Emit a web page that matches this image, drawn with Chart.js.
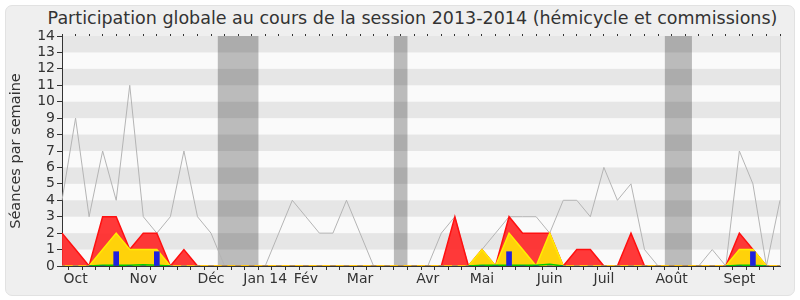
<!DOCTYPE html>
<html>
<head>
<meta charset="utf-8">
<script src="https://cdn.jsdelivr.net/npm/chart.js@4.4.0/dist/chart.umd.min.js"></script>
<style>
  body { margin: 0; background: #ffffff; }
  #wrap { position: relative; width: 800px; height: 300px; }
  #cadre {
    position: absolute; left: 5px; top: 5px; width: 788px; height: 289px;
    background: #efefef; border: 1px solid #e2e2e2; border-radius: 7px;
  }
  #titre {
    position: absolute; left: 0; top: 8px; width: 825px; text-align: center;
    font-family: "DejaVu Sans", sans-serif; font-size: 17.5px; color: #333;
  }
  canvas { position: absolute; left: 0; top: 0; }
</style>
</head>
<body>
<div id="wrap">
  <div id="cadre"></div>
  <div id="titre">Participation globale au cours de la session 2013-2014 (hémicycle et commissions)</div>
  <canvas id="chart" width="800" height="300"></canvas>
</div>
<script>
// une valeur par semaine, d'octobre 2013 à septembre 2014
const mois = ['', 'Oct', '', '', '', '', 'Nov', '', '', '', '', 'Déc', '', '', '', 'Jan 14', '', '', 'Fév', '', '', '', 'Mar', '', '', '', '', 'Avr', '', '', '', 'Mai', '', '', '', '', 'Juin', '', '', '', 'Juil', '', '', '', '', 'Août', '', '', '', '', 'Sept', '', '', ''];
const maxSeances = [4, 9, 3, 7, 4, 11, 3, 2, 3, 7, 3, 2, 0, 0, 0, 0, 2, 4, 3, 2, 2, 4, 2, 0, 0, 0, 0, 0, 2, 3, 0, 1, 2, 3, 3, 3, 2, 4, 4, 3, 6, 4, 5, 1, 0, 0, 0, 0, 1, 0, 7, 5, 0, 4];
const presences = [2, 1, 0, 3, 3, 1, 2, 2, 0, 1, 0, 0, 0, 0, 0, 0, 0, 0, 0, 0, 0, 0, 0, 0, 0, 0, 0, 0, 0, 3, 0, 1, 0, 3, 2, 2, 2, 0, 1, 1, 0, 0, 2, 0, 0, 0, 0, 0, 0, 0, 2, 1, 0, 0];
const hemicycle = [0, 0, 0, 1, 2, 1, 1, 1, 0, 0, 0, 0, 0, 0, 0, 0, 0, 0, 0, 0, 0, 0, 0, 0, 0, 0, 0, 0, 0, 0, 0, 1, 0, 2, 1, 0, 2, 0, 0, 0, 0, 0, 0, 0, 0, 0, 0, 0, 0, 0, 1, 1, 0, 0];
const interventions = [null, null, 0, 0.05, 0.05, 0.05, 0.08, 0.05, 0, null, null, null, null, null, null, null, null, null, null, null, null, null, null, null, null, null, null, null, null, null, 0, 0.05, 0.05, 0.05, 0.05, 0.05, 0.1, 0, null, null, null, null, null, null, null, null, null, null, null, 0, 0.05, 0.05, 0, null];
const questions = [0, 0, 0, 0, 0.87, 0, 0, 0.87, 0, 0, 0, 0, 0, 0, 0, 0, 0, 0, 0, 0, 0, 0, 0, 0, 0, 0, 0, 0, 0, 0, 0, 0, 0, 0.87, 0, 0, 0, 0, 0, 0, 0, 0, 0, 0, 0, 0, 0, 0, 0, 0, 0, 0.87, 0, 0];
// vacances parlementaires (en semaines)
const vacances = [[11.5, 14.5], [24.5, 25.5], [44.5, 46.5]];

const fond = {
  id: 'fond',
  beforeDraw(chart) {
    const { ctx, chartArea: a, scales: { x, y } } = chart;
    ctx.save();
    ctx.fillStyle = '#fafafa';
    ctx.fillRect(a.left, a.top, a.right - a.left, a.bottom - a.top);
    ctx.fillStyle = '#e6e6e6';
    for (let v = 1; v < 14; v += 2) {
      const y1 = y.getPixelForValue(v + 1), y0 = y.getPixelForValue(v);
      ctx.fillRect(a.left, y1, a.right - a.left, y0 - y1);
    }
    ctx.fillStyle = 'rgba(0,0,0,0.25)';
    vacances.forEach(([d, f]) => {
      const x0 = x.getPixelForValue(d), x1 = x.getPixelForValue(f);
      ctx.fillRect(x0, a.top, x1 - x0, a.bottom - a.top);
    });
    ctx.strokeStyle = '#d0d0d0';
    ctx.beginPath();
    ctx.moveTo(a.right + 0.5, a.top);
    ctx.lineTo(a.right + 0.5, a.bottom);
    ctx.stroke();
    ctx.restore();
  }
};

const police = { family: '"DejaVu Sans", sans-serif', size: 14 };
const traits = { display: true, drawOnChartArea: false, drawTicks: true, color: '#333', tickColor: '#333', tickWidth: 1, lineWidth: 1 };

new Chart(document.getElementById('chart'), {
  data: {
    labels: mois,
    datasets: [
      { type: 'bar', data: questions, backgroundColor: '#2020dd', barThickness: 5, order: 0 },
      { type: 'line', data: interventions, borderColor: '#00cc00', borderWidth: 1.5, pointRadius: 0, tension: 0, order: 1 },
      { type: 'line', data: hemicycle, borderColor: '#ffee00', backgroundColor: '#ffd20a', borderWidth: 1.5, fill: 'origin', pointRadius: 0, tension: 0, order: 2 },
      { type: 'line', data: presences, borderColor: '#ff1010', backgroundColor: 'rgba(255,40,40,0.92)', borderWidth: 1.5, fill: 'origin', pointRadius: 0, tension: 0, order: 3 },
      { type: 'line', data: maxSeances, borderColor: '#b4b4b4', borderWidth: 1, pointRadius: 0, tension: 0, order: 4 }
    ]
  },
  options: {
    responsive: false,
    animation: false,
    layout: { padding: { top: 34, right: 20, left: 6, bottom: 4 } },
    plugins: { legend: { display: false }, tooltip: { enabled: false } },
    scales: {
      x: {
        offset: false,
        grid: { ...traits, tickLength: 4 },
        border: { color: '#333' },
        ticks: { autoSkip: false, maxRotation: 0, padding: 1, color: '#333', font: police },
        afterFit(s) { s.height = 30; }
      },
      haut: {
        type: 'category',
        position: 'top',
        labels: mois,
        offset: false,
        grid: { ...traits, tickLength: 2 },
        border: { display: false },
        ticks: { display: false, autoSkip: false },
        afterFit(s) { s.height = 2; }
      },
      y: {
        min: 0,
        max: 14,
        grid: { ...traits, tickLength: 5 },
        border: { color: '#333' },
        ticks: { stepSize: 1, autoSkip: false, padding: 2, color: '#333', font: police },
        title: { display: true, text: 'Séances par semaine', color: '#333', font: { family: '"DejaVu Sans", sans-serif', size: 14.5 }, padding: 2 },
        afterFit(s) { s.width = 56; }
      }
    }
  },
  plugins: [fond]
});
</script>
</body>
</html>
